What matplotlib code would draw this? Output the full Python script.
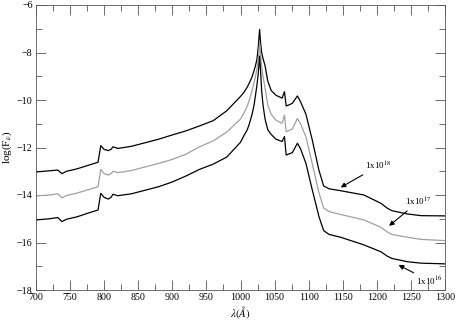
import matplotlib
matplotlib.use("Agg")
import matplotlib.pyplot as plt
from matplotlib.ticker import MultipleLocator

wavelength = [700, 720, 732, 738, 745, 760, 780, 791, 795, 800, 806, 810, 813, 820,
              840, 860, 880, 900, 920, 940, 960, 980, 1000, 1005, 1010, 1013, 1017,
              1020, 1022, 1024, 1026, 1028, 1029.5, 1031, 1033, 1036, 1040, 1045,
              1052, 1061, 1064.5, 1067, 1070, 1076, 1083.5, 1088, 1096, 1105, 1115,
              1122, 1130, 1147, 1181, 1206, 1215, 1222, 1245, 1265, 1300]

flux_1e18 = [-13.03, -12.98, -12.95, -13.10, -13.00, -12.90, -12.72, -12.62, -11.92, -12.08,
             -12.13, -12.08, -11.97, -12.04, -11.95, -11.80, -11.65, -11.47, -11.30, -11.09,
             -10.87, -10.45, -9.85, -9.68, -9.45, -9.28, -9.02,
             -8.75, -8.55, -8.30, -7.80, -7.03, -7.60, -8.00, -8.25, -8.55, -9.20, -9.60,
             -9.80, -9.92, -9.65, -10.25, -10.22, -10.14, -9.83, -10.07, -10.60, -11.65, -12.95,
             -13.62, -13.74, -13.82, -14.00, -14.35, -14.55, -14.66, -14.80, -14.87, -14.88]

flux_1e17 = [-14.04, -14.00, -13.95, -14.12, -14.02, -13.92, -13.75, -13.65, -12.92, -13.10,
             -13.16, -13.10, -13.00, -13.06, -12.97, -12.82, -12.67, -12.50, -12.28, -11.97,
             -11.72, -11.35, -10.80, -10.55, -10.25, -10.00, -9.60,
             -9.25, -9.00, -8.70, -8.30, -7.60, -8.10, -8.60, -9.00, -9.50, -10.20, -10.60,
             -10.85, -10.98, -10.63, -11.33, -11.30, -11.22, -10.78, -11.00, -11.55, -12.65, -13.90,
             -14.55, -14.70, -14.82, -15.05, -15.36, -15.55, -15.66, -15.78, -15.87, -15.92]

flux_1e16 = [-15.05, -15.00, -14.95, -15.12, -15.02, -14.92, -14.73, -14.63, -13.93, -14.10,
             -14.17, -14.10, -13.97, -14.03, -13.95, -13.80, -13.65, -13.45, -13.20, -12.92,
             -12.70, -12.40, -11.78, -11.50, -11.25, -11.00, -10.60,
             -10.20, -9.80, -9.40, -8.90, -8.15, -8.80, -9.60, -10.20, -10.80, -11.25, -11.45,
             -11.65, -11.75, -11.54, -12.32, -12.28, -12.22, -11.82, -12.05, -12.67, -13.75, -14.90,
             -15.50, -15.66, -15.78, -16.10, -16.39, -16.57, -16.67, -16.81, -16.87, -16.90]

labels = ["1x10$^{18}$", "1x10$^{17}$", "1x10$^{16}$"]

plt.rcParams['font.family'] = ['Liberation Serif', 'DejaVu Serif']
plt.rcParams['mathtext.fontset'] = 'stix'

fig = plt.figure(figsize=(4.58, 3.21), dpi=100)
ax = fig.add_axes([36/458, 1 - 290/321, (445 - 36)/458, (290 - 5)/321])

ax.plot(wavelength, flux_1e18, color='black', lw=0.9)
ax.plot(wavelength, flux_1e17, color='#a0a0a0', lw=0.9)
ax.plot(wavelength, flux_1e16, color='black', lw=0.9)

ax.set_xlim(700, 1300)
ax.set_ylim(-18, -6)
ax.xaxis.set_major_locator(MultipleLocator(50))
ax.xaxis.set_minor_locator(MultipleLocator(25))
ax.yaxis.set_major_locator(MultipleLocator(2))
ax.yaxis.set_minor_locator(MultipleLocator(1))
ax.tick_params(which='both', direction='in', top=True, right=True, labelsize=7.2,
               width=0.6, color='#555555')
ax.tick_params(which='major', length=7, pad=2.5)
ax.tick_params(which='minor', length=4)
for s in ax.spines.values():
    s.set_linewidth(0.6)
    s.set_color('#555555')

ax.set_xlabel(r'$\lambda(\AA)$', fontsize=8, labelpad=1)
ax.set_ylabel(r'log(F$_\nu$)', fontsize=8, labelpad=2)

arrow = dict(arrowstyle='-|>', color='black', lw=0.8, mutation_scale=7, shrinkA=0, shrinkB=0)
ax.annotate(labels[0], xy=(1147, -13.68), xytext=(1183, -12.78), fontsize=6.5,
            va='center', ha='left', arrowprops=arrow)
ax.annotate(labels[1], xy=(1218, -15.3), xytext=(1241, -14.3), fontsize=6.5,
            va='center', ha='left', arrowprops=arrow)
ax.annotate(labels[2], xy=(1232, -16.95), xytext=(1258, -17.62), fontsize=6.5,
            va='center', ha='left', arrowprops=arrow)

fig.savefig('out.png', dpi=100)
